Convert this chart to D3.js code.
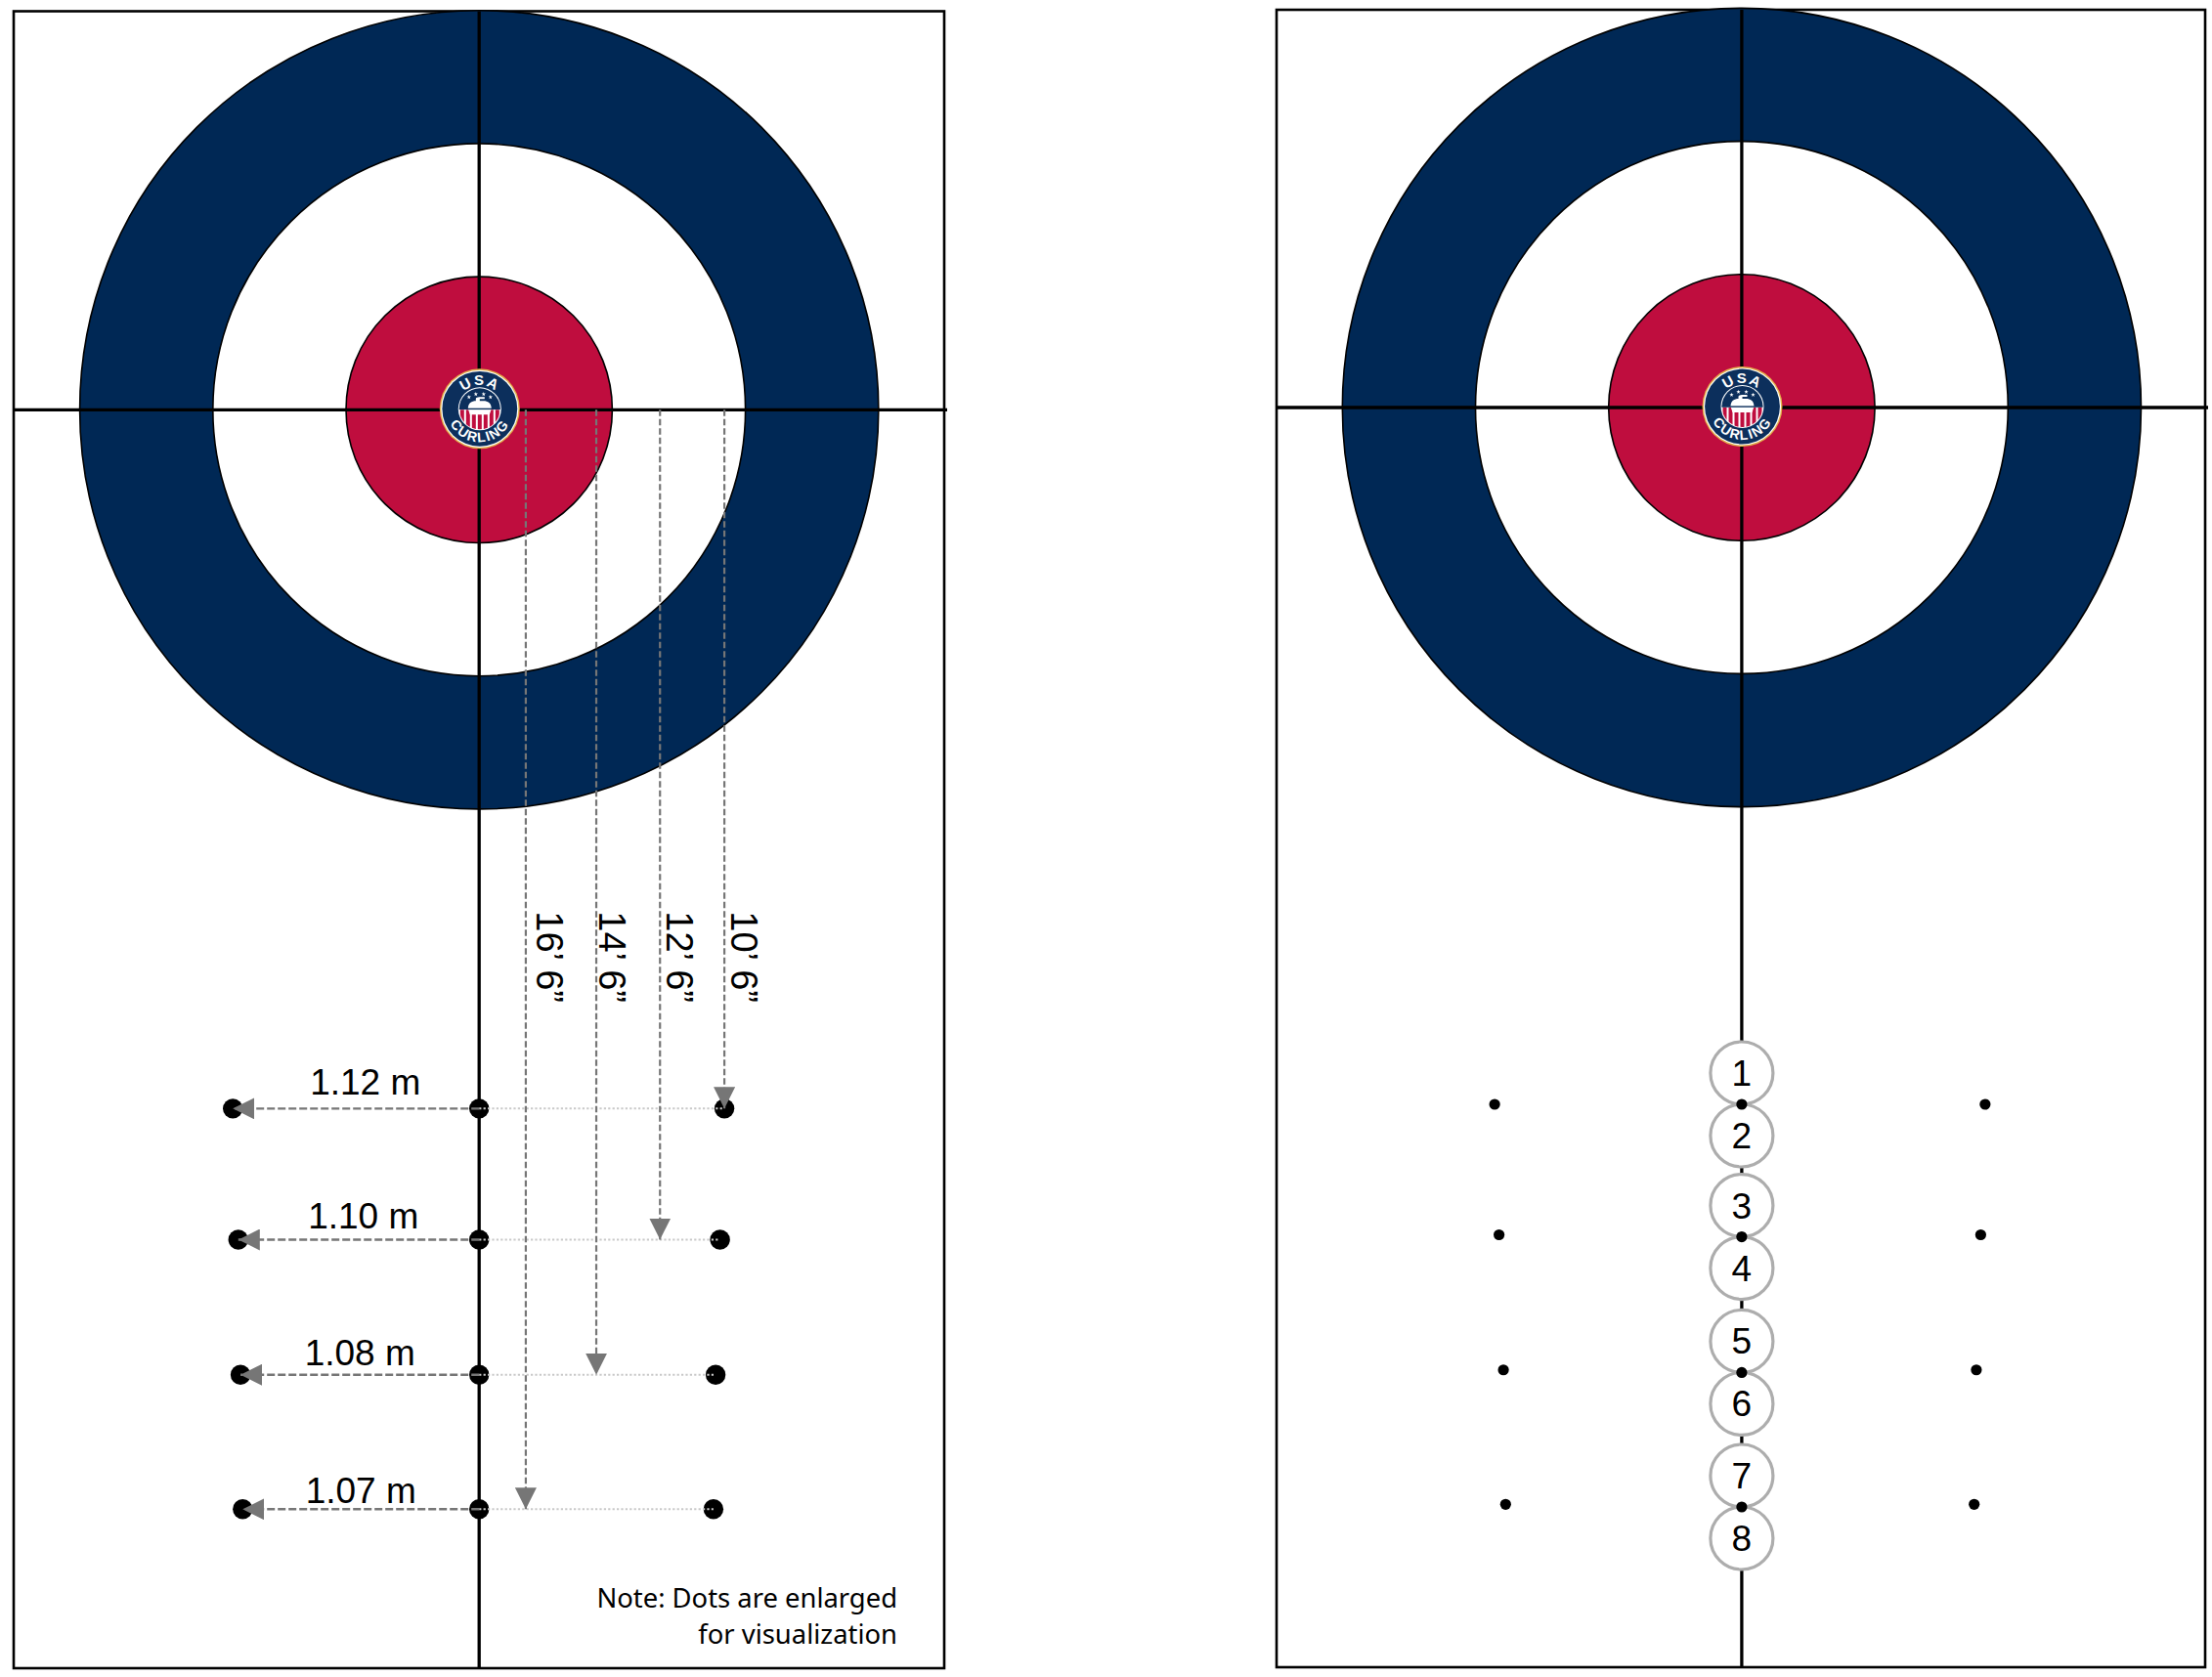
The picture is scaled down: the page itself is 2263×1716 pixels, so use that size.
<!DOCTYPE html>
<html>
<head>
<meta charset="utf-8">
<title>Curling house dot layout</title>
<script src="https://cdn.jsdelivr.net/npm/d3@7"></script>
<style>
  html, body { margin: 0; padding: 0; background: #fff; }
  svg { display: block; }
  text { font-family: "Liberation Sans", sans-serif; fill: #000; }
</style>
</head>
<body>
<script>
// Ring radii in feet, outermost first
var ringFeet = [6, 4, 2];
var ringColors = ['#002855', '#ffffff', '#bf0d3e'];

// Rows of dots, feet down from the tee, as they were placed in each panel
var leftRowFeet = [10.5, 12.47, 14.5, 16.52];
var rightRowFeet = [10.47, 12.46, 14.5, 16.52];
var rowLabels = ['10\u2019 6\u201d', '12\u2019 6\u201d', '14\u2019 6\u201d', '16\u2019 6\u201d'];
// The side dots in the right panel sit a touch above the centre ones
var sideRowFeet = [10.47, 12.43, 14.46, 16.48];

// Side dot distance from the centre line, metres
var sideMetres = [1.12, 1.10, 1.08, 1.07];
var sideLabels = ['1.12 m', '1.10 m', '1.08 m', '1.07 m'];
// Left column of the left panel was placed slightly wider
var leftColumnMetres = [1.125, 1.10, 1.09, 1.08];

// Where the depth leaders hang from the tee line, metres right of centre
var leaderMetres = [1.12, 0.826, 0.535, 0.213];

// Numbered stones in the right panel, two for each row
var stoneNumbers = [1, 2, 3, 4, 5, 6, 7, 8];

var width = 2263, height = 1716;

// Feet and metres share one drawing scale
var feet = d3.scaleLinear().domain([0, 1]).range([0, 68.1]);
var metres = d3.scaleLinear().domain([0, 1]).range([0, 224]);

var svg = d3.select('body').append('svg')
  .attr('width', width)
  .attr('height', height);

var defs = svg.append('defs');

defs.append('marker')
  .attr('id', 'arrow')
  .attr('markerUnits', 'userSpaceOnUse')
  .attr('viewBox', '0 0 22 22')
  .attr('markerWidth', 22)
  .attr('markerHeight', 22)
  .attr('refX', 22)
  .attr('refY', 11)
  .attr('orient', 'auto')
  .append('path')
  .attr('d', 'M0,0L22,11L0,22Z')
  .attr('fill', '#767676');

defs.append('clipPath')
  .attr('id', 'logo-inner')
  .append('circle')
  .attr('r', 21);

// Arcs for the lettering in the logo
defs.append('path')
  .attr('id', 'logo-top')
  .attr('d', 'M-24,0A24,24 0 0 1 24,0');
defs.append('path')
  .attr('id', 'logo-bottom')
  .attr('d', 'M-34,0A34,34 0 0 0 34,0');

/**
 * Frame, rings, cross lines and logo. Returns a group whose origin is the tee.
 */
function drawHouse(frame, tee) {
  svg.append('rect')
    .attr('x', frame.x0)
    .attr('y', frame.y0)
    .attr('width', frame.x1 - frame.x0)
    .attr('height', frame.y1 - frame.y0)
    .attr('fill', '#fff')
    .attr('stroke', '#000')
    .attr('stroke-width', 2.6);

  var g = svg.append('g')
    .attr('transform', 'translate(' + tee.x + ',' + tee.y + ')');

  g.selectAll('circle.ring')
    .data(ringFeet)
    .enter().append('circle')
    .attr('class', 'ring')
    .attr('r', function(d) { return feet(d); })
    .attr('fill', function(d, i) { return ringColors[i]; })
    .attr('stroke', '#000')
    .attr('stroke-width', 1.6);

  // Centre line and tee line run the whole frame
  g.append('line')
    .attr('x1', 0).attr('x2', 0)
    .attr('y1', frame.y0 - tee.y).attr('y2', frame.y1 - tee.y)
    .attr('stroke', '#000').attr('stroke-width', 3.3);
  g.append('line')
    .attr('x1', frame.x0 - tee.x).attr('x2', frame.x1 + 3 - tee.x)
    .attr('y1', 0).attr('y2', 0)
    .attr('stroke', '#000').attr('stroke-width', 3.3);

  drawLogo(g.append('g').attr('transform', 'translate(0.6,-1)'));
  return g;
}

function drawLogo(g) {
  g.append('circle').attr('r', 41).attr('fill', '#e3b04b');
  g.append('circle').attr('r', 39.6).attr('fill', '#fff');
  g.append('circle').attr('r', 38.4).attr('fill', '#0c2f5c');
  g.append('circle').attr('r', 22).attr('fill', '#fff');

  var inner = g.append('g').attr('clip-path', 'url(#logo-inner)');
  inner.append('rect')
    .attr('x', -22).attr('y', -22).attr('width', 44).attr('height', 22)
    .attr('fill', '#0c2f5c');
  inner.selectAll('rect.stripe')
    .data(d3.range(-3, 4))
    .enter().append('rect')
    .attr('class', 'stripe')
    .attr('x', function(d) { return d * 6 - 2; })
    .attr('y', 1)
    .attr('width', 4)
    .attr('height', 22)
    .attr('fill', '#bf0d3e');

  // The stone on the logo
  inner.append('path')
    .attr('d', 'M-12,0C-12,-6 -8,-8 -4,-8L-4,-10C-4,-12 -1,-12 5,-12L5,-10L0,-10L0,-8L4,-8C8,-8 12,-6 12,0L10,6L-10,6Z')
    .attr('fill', '#fff');
  inner.append('rect')
    .attr('x', -22).attr('y', -0.6).attr('width', 44).attr('height', 1.4)
    .attr('fill', '#0c2f5c');

  g.selectAll('path.star')
    .data([-11, -4, 4, 11])
    .enter().append('path')
    .attr('class', 'star')
    .attr('d', d3.symbol().type(d3.symbolStar).size(6))
    .attr('transform', function(d) {
      return 'translate(' + d + ',' + (Math.abs(d) > 6 ? -12 : -15) + ')';
    })
    .attr('fill', '#fff');

  var lettering = [
    { href: '#logo-top', label: 'USA', size: 15, spacing: 1.6 },
    { href: '#logo-bottom', label: 'CURLING', size: 14, spacing: 1.6 }
  ];
  lettering.forEach(function(t) {
    g.append('text')
      .style('font-weight', 700)
      .style('font-size', t.size + 'px')
      .style('letter-spacing', t.spacing + 'px')
      .style('fill', '#fff')
      .append('textPath')
      .attr('href', t.href)
      .attr('startOffset', '50%')
      .attr('text-anchor', 'middle')
      .text(t.label);
  });
}

/* ---------- left panel: the measurements ---------- */
var left = drawHouse({ x0: 14, y0: 11.5, x1: 966, y1: 1707 }, { x: 490.2, y: 419.3 });

var rows = leftRowFeet.map(function(f, i) {
  return {
    y: feet(f),
    side: metres(sideMetres[i]),
    leftSide: metres(leftColumnMetres[i]),
    label: sideLabels[i]
  };
});

left.selectAll('circle.dot-centre')
  .data(rows)
  .enter().append('circle')
  .attr('class', 'dot-centre')
  .attr('cy', function(d) { return d.y; })
  .attr('r', 10.2);

left.selectAll('circle.dot-left')
  .data(rows)
  .enter().append('circle')
  .attr('class', 'dot-left')
  .attr('cx', function(d) { return -d.leftSide; })
  .attr('cy', function(d) { return d.y; })
  .attr('r', 10.2);

left.selectAll('circle.dot-right')
  .data(rows)
  .enter().append('circle')
  .attr('class', 'dot-right')
  .attr('cx', function(d) { return d.side; })
  .attr('cy', function(d) { return d.y; })
  .attr('r', 10.2);

// Dotted guide from the centre to the right dot sits under the depth arrows
left.selectAll('line.guide')
  .data(rows)
  .enter().append('line')
  .attr('class', 'guide')
  .attr('x1', 0)
  .attr('x2', function(d) { return d.side; })
  .attr('y1', function(d) { return d.y; })
  .attr('y2', function(d) { return d.y; })
  .attr('stroke', '#c9c9c9')
  .attr('stroke-width', 2)
  .attr('stroke-dasharray', '2.2 2.2');

left.selectAll('line.span')
  .data(rows)
  .enter().append('line')
  .attr('class', 'span')
  .attr('x1', 0)
  .attr('x2', function(d) { return -d.leftSide; })
  .attr('y1', function(d) { return d.y; })
  .attr('y2', function(d) { return d.y; })
  .attr('stroke', '#767676')
  .attr('stroke-width', 2.4)
  .attr('stroke-dasharray', '8 3')
  .attr('marker-end', 'url(#arrow)');

left.selectAll('line.leader')
  .data(leaderMetres)
  .enter().append('line')
  .attr('class', 'leader')
  .attr('x1', function(d) { return metres(d); })
  .attr('x2', function(d) { return metres(d); })
  .attr('y1', 0)
  .attr('y2', function(d, i) { return feet(leftRowFeet[i]); })
  .attr('stroke', '#767676')
  .attr('stroke-width', 2.2)
  .attr('stroke-dasharray', '6.5 3')
  .attr('marker-end', 'url(#arrow)');

// Label placement was nudged by hand in the original, so it is kept by hand here
var depthLabelX = [257.8, 191.5, 122.8, 58.8];
var spanLabelX = [-116.5, -118.5, -122, -121];
var spanLabelLift = [14, 12, 9.3, 6.3];

left.selectAll('text.depth')
  .data(rowLabels)
  .enter().append('text')
  .attr('class', 'depth')
  .attr('transform', function(d, i) {
    return 'translate(' + depthLabelX[i] + ',513) rotate(90)';
  })
  .style('font-size', '38px')
  .text(function(d) { return d; });

left.selectAll('text.span-label')
  .data(rows)
  .enter().append('text')
  .attr('class', 'span-label')
  .attr('x', function(d, i) { return spanLabelX[i]; })
  .attr('y', function(d, i) { return d.y - spanLabelLift[i]; })
  .attr('text-anchor', 'middle')
  .style('font-size', '37px')
  .text(function(d) { return d.label; });

var noteLines = ['Note: Dots are enlarged', 'for visualization'];
svg.selectAll('text.note')
  .data(noteLines)
  .enter().append('text')
  .attr('class', 'note')
  .attr('x', 918)
  .attr('y', function(d, i) { return 1645 + i * 36.7; })
  .attr('text-anchor', 'end')
  .style('font-family', '"Noto Sans", sans-serif')
  .style('font-size', '27.4px')
  .text(function(d) { return d; });

/* ---------- right panel: the numbered stones ---------- */
var right = drawHouse({ x0: 1306, y0: 10, x1: 2256, y1: 1706 }, { x: 1781.9, y: 417 });

var stoneRadius = 32;
var stones = stoneNumbers.map(function(n, i) {
  var row = Math.floor(i / 2);
  return { n: n, y: feet(rightRowFeet[row]) + (i % 2 ? stoneRadius : -stoneRadius) };
});

right.selectAll('circle.stone')
  .data(stones)
  .enter().append('circle')
  .attr('class', 'stone')
  .attr('cy', function(d) { return d.y; })
  .attr('r', stoneRadius)
  .attr('fill', '#fff')
  .attr('stroke', '#adadad')
  .attr('stroke-width', 3.2);

right.selectAll('text.stone-number')
  .data(stones)
  .enter().append('text')
  .attr('class', 'stone-number')
  .attr('y', function(d) { return d.y + 13; })
  .attr('text-anchor', 'middle')
  .style('font-size', '37px')
  .text(function(d) { return d.n; });

right.selectAll('circle.dot-centre')
  .data(rightRowFeet)
  .enter().append('circle')
  .attr('class', 'dot-centre')
  .attr('cy', function(d) { return feet(d); })
  .attr('r', 5.6);

// Side dots centre on a line just left of the drawn centre line
[-1, 1].forEach(function(dir) {
  right.selectAll('circle.dot-side' + dir)
    .data(sideMetres)
    .enter().append('circle')
    .attr('class', 'dot-side' + dir)
    .attr('cx', function(d) { return dir * metres(d) - 1.9; })
    .attr('cy', function(d, i) { return feet(sideRowFeet[i]); })
    .attr('r', 5.6);
});
</script>
</body>
</html>
